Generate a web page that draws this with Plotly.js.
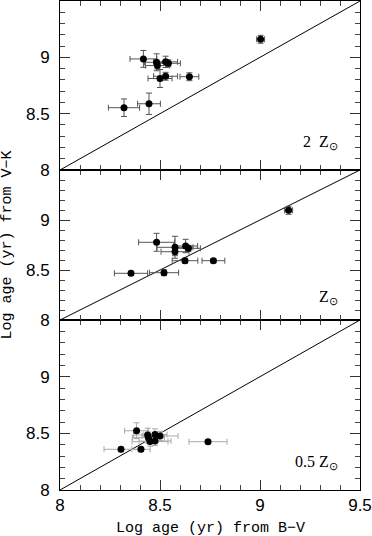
<!DOCTYPE html>
<html>
<head>
<meta charset="utf-8">
<script src="https://cdn.plot.ly/plotly-3.0.1.min.js"></script>
<style>html,body{margin:0;padding:0;background:#fff;}#chart{width:372px;height:536px;}</style>
</head>
<body>
<div id="chart"></div>
<script>
// Panel 1: 2 Zsun
const p1_x    = [9.003, 8.417, 8.483, 8.487, 8.528, 8.542, 8.528, 8.500, 8.647, 8.320, 8.445];
const p1_xerr = [0.020, 0.067, 0.060, 0.060, 0.060, 0.060, 0.060, 0.060, 0.047, 0.078, 0.057];
const p1_y    = [9.160, 8.986, 8.956, 8.927, 8.960, 8.947, 8.832, 8.812, 8.828, 8.553, 8.588];
const p1_yerr = [0.035, 0.075, 0.075, 0.030, 0.050, 0.030, 0.035, 0.080, 0.035, 0.078, 0.095];
// Panel 2: Zsun
const p2_x    = [9.143, 8.483, 8.575, 8.575, 8.628, 8.642, 8.625, 8.767, 8.355, 8.520];
const p2_xerr = [0.020, 0.090, 0.090, 0.070, 0.060, 0.060, 0.064, 0.057, 0.083, 0.073];
const p2_y    = [9.097, 8.777, 8.727, 8.683, 8.740, 8.717, 8.593, 8.593, 8.467, 8.473];
const p2_yerr = [0.040, 0.090, 0.110, 0.040, 0.067, 0.030, 0.025, 0.020, 0.020, 0.030];
// Panel 3: 0.5 Zsun
const p3_x    = [8.383, 8.438, 8.475, 8.500, 8.442, 8.450, 8.475, 8.305, 8.405, 8.740];
const p3_xerr = [0.060, 0.070, 0.060, 0.090, 0.080, 0.090, 0.080, 0.085, 0.046, 0.095];
const p3_y    = [8.523, 8.485, 8.490, 8.477, 8.462, 8.427, 8.432, 8.359, 8.359, 8.426];
const p3_yerr = [0.070, 0.060, 0.050, 0.040, 0.050, 0.040, 0.040, 0.020, 0.020, 0.020];
// one-to-one line
const line_x = [8, 9.5];
const line_y = [8, 9.5];
const xTicks = [8, 8.5, 9, 9.5];
const xTickText = ['8', '8.5', '9', '9.5'];
const yTicks = [8, 8.5, 9];
const yTickText = ['8', '8.5', '9'];
const panelLabels = ['2  Z<sub>⊙</sub>', 'Z<sub>⊙</sub>', '0.5 Z<sub>⊙</sub>'];

function pts(x, xe, y, ye, xa, ya, col) {
  return {x: x, y: y, xaxis: xa, yaxis: ya, type: 'scatter', mode: 'markers',
    marker: {color: '#000', size: 7},
    error_x: {type: 'data', array: xe, visible: true, color: col, thickness: 1, width: 3},
    error_y: {type: 'data', array: ye, visible: true, color: col, thickness: 1, width: 3},
    showlegend: false, hoverinfo: 'skip'};
}
function ln(xa, ya) {
  return {x: line_x, y: line_y, xaxis: xa, yaxis: ya, type: 'scatter', mode: 'lines',
    line: {color: '#000', width: 1}, showlegend: false, hoverinfo: 'skip'};
}
const data = [
  ln('x', 'y'), ln('x2', 'y2'), ln('x3', 'y3'),
  pts(p3_x, p3_xerr, p3_y, p3_yerr, 'x', 'y', '#aaaaaa'),
  pts(p2_x, p2_xerr, p2_y, p2_yerr, 'x2', 'y2', '#555555'),
  pts(p1_x, p1_xerr, p1_y, p1_yerr, 'x3', 'y3', '#555555')
];
const tickFont = {family: 'Liberation Sans, Arial, sans-serif', size: 17, color: '#000'};
function xa(anchor, labels) {
  return {anchor: anchor, range: [8, 9.5], tickvals: xTicks, ticktext: xTickText,
    showticklabels: labels, ticks: 'inside', ticklen: 10, tickwidth: 1, tickcolor: '#333',
    minor: {dtick: 0.1, ticks: 'inside', ticklen: 5, tickcolor: '#444', tickwidth: 1, showgrid: false},
    showline: true, linecolor: '#000', linewidth: 1, mirror: 'ticks', showgrid: false, zeroline: false,
    tickfont: tickFont, ticklabelstandoff: 0, fixedrange: true};
}
function ya(anchor, dom) {
  return {anchor: anchor, domain: dom, range: [8, 9.5], tickvals: yTicks, ticktext: yTickText,
    ticks: 'inside', ticklen: 10, tickwidth: 1, tickcolor: '#333',
    minor: {dtick: 0.1, ticks: 'inside', ticklen: 5, tickcolor: '#444', tickwidth: 1, showgrid: false},
    showline: true, linecolor: '#000', linewidth: 1, mirror: 'ticks', showgrid: false, zeroline: false,
    tickfont: tickFont, ticklabelstandoff: 6, fixedrange: true};
}
const H = 489;
const d1 = 170 / H, d2 = 320 / H;
const labFont = {family: 'Liberation Serif, Times New Roman, serif', size: 16, color: '#000'};
const layout = {
  width: 372, height: 536,
  margin: {l: 60, r: 12, t: 1, b: 46},
  paper_bgcolor: '#fff', plot_bgcolor: '#fff',
  xaxis: xa('y', true), xaxis2: xa('y2', false), xaxis3: xa('y3', false),
  yaxis: ya('x', [0, d1]), yaxis2: ya('x2', [d1, d2]), yaxis3: ya('x3', [d2, 1]),
  annotations: [
    {text: panelLabels[0], xref: 'x3', yref: 'y3', x: 9.4, y: 8.24, xanchor: 'right', yanchor: 'middle', showarrow: false, font: labFont},
    {text: panelLabels[1], xref: 'x2', yref: 'y2', x: 9.4, y: 8.23, xanchor: 'right', yanchor: 'middle', showarrow: false, font: labFont},
    {text: panelLabels[2], xref: 'x', yref: 'y', x: 9.4, y: 8.24, xanchor: 'right', yanchor: 'middle', showarrow: false, font: labFont},
    {text: 'Log age (yr) from B−V', xref: 'paper', yref: 'paper', x: 0.5, y: -38 / H, xanchor: 'center', yanchor: 'middle', showarrow: false,
     font: {family: 'Liberation Mono, Courier New, monospace', size: 15, color: '#000'}},
    {text: 'Log age (yr) from V−K', xref: 'paper', yref: 'paper', x: -53 / 300, y: 0.5, xanchor: 'center', yanchor: 'middle', textangle: -90, showarrow: false,
     font: {family: 'Liberation Mono, Courier New, monospace', size: 15, color: '#000'}}
  ]
};
Plotly.newPlot('chart', data, layout, {staticPlot: true, displayModeBar: false});
</script>
</body>
</html>
